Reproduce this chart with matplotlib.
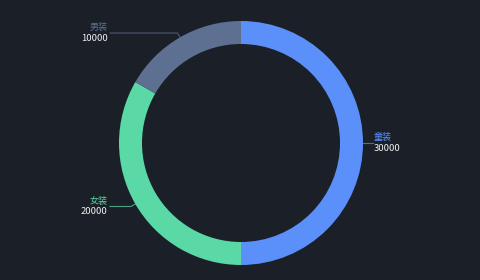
import numpy as np
import matplotlib.pyplot as plt

plt.rcParams['font.family'] = ['Noto Sans CJK SC', 'DejaVu Sans']

names = ['童装', '女装', '男装']
values = [30000, 20000, 10000]
colors = ['#5B8FF9', '#5AD8A6', '#5D7092']

bg = '#1b2028'
cx, cy = 241, 137
r_out, r_in = 122, 99

fig = plt.figure(figsize=(4.8, 2.8), dpi=100, facecolor=bg)
ax = fig.add_axes([0, 0, 1, 1])
ax.set_facecolor(bg)
ax.axis('off')

ax.pie(values, colors=colors, startangle=90, counterclock=False,
       center=(cx, cy), radius=r_out,
       wedgeprops=dict(width=r_out - r_in, linewidth=0))
ax.set_xlim(0, 480)
ax.set_ylim(0, 280)
ax.set_aspect('equal')

# labels with leader lines
total = sum(values)
start = 90.0
for name, val, col in zip(names, values, colors):
    span = 360.0 * val / total
    mid = np.deg2rad(start - span / 2)
    start -= span
    x0 = cx + r_out * np.cos(mid)
    y0 = cy + r_out * np.sin(mid)
    x1 = cx + (r_out + 5) * np.cos(mid)
    y1 = cy + (r_out + 5) * np.sin(mid)
    if np.cos(mid) >= 0:
        x2 = x1 + 5
        ha = 'left'
        tx = x2 + 1
    else:
        x2 = 110
        ha = 'right'
        tx = x2 - 2.5
    ax.plot([x0, x1, x2], [y0, y1, y1], color=col, lw=0.8, alpha=0.7)
    ax.text(tx, y1 + 1, name, color=col, fontsize=6.5, ha=ha, va='bottom')
    ax.text(tx, y1 - 1, str(val), color='#f0f0f0', fontsize=6.8,
            ha=ha, va='top', fontweight='medium')

fig.savefig('out.png', dpi=100, facecolor=bg)
